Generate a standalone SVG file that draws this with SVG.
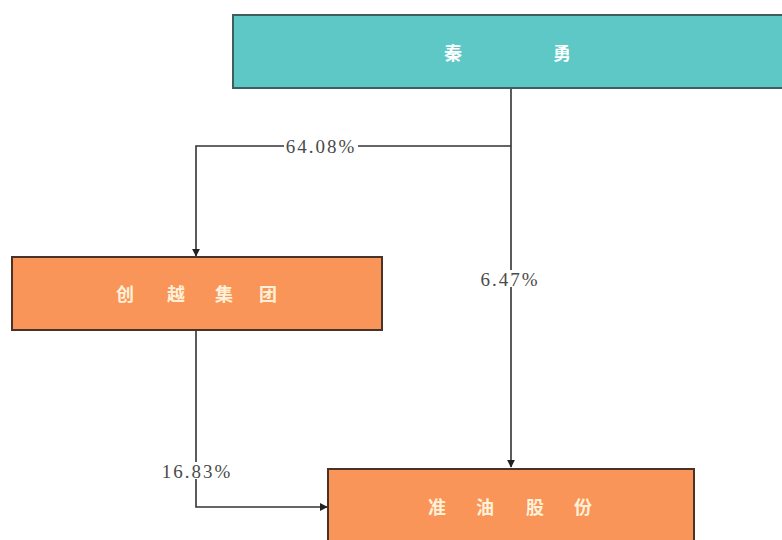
<svg xmlns="http://www.w3.org/2000/svg" width="782" height="540" viewBox="0 0 782 540">
<defs>
<style>
.teal{fill:#5EC8C6;stroke:#3E5F60;stroke-width:2}
.orange{fill:#FA9559;stroke:#4A3226;stroke-width:2}
.cn{font-family:"Noto Sans CJK SC","Noto Sans",sans-serif;font-size:18px;font-weight:bold;text-anchor:middle;dominant-baseline:central}
.lbl{font-family:"Liberation Serif",serif;font-size:19px;letter-spacing:2px;fill:#4a4a4a;text-anchor:middle;dominant-baseline:central}
.ln{fill:none;stroke:#333;stroke-width:1.6}
</style>
<marker id="arr" viewBox="0 0 10 10" refX="9" refY="5" markerWidth="8" markerHeight="8" markerUnits="userSpaceOnUse" orient="auto">
<path d="M0,0 L10,5 L0,10 z" fill="#222"/>
</marker>
</defs>
<rect width="782" height="540" fill="#fff"/>
<g id="connectors">
<path class="ln" d="M511,88 V467" marker-end="url(#arr)"/>
<path class="ln" d="M511,146 H196 V256" marker-end="url(#arr)"/>
<path class="ln" d="M196,330 V507 H327" marker-end="url(#arr)"/>
<rect x="284" y="137" width="74" height="18" fill="#fff"/>
<text class="lbl" x="321" y="146">64.08%</text>
<rect x="478" y="270" width="63" height="17" fill="#fff"/>
<text class="lbl" x="510" y="279">6.47%</text>
<rect x="160" y="462" width="73" height="17" fill="#fff"/>
<text class="lbl" x="197" y="471">16.83%</text>
</g>
<g id="qinyong">
<rect class="teal" x="233" y="15" width="560" height="73"/>
<text class="cn" fill="#fff" x="453 562" y="52">秦勇</text>
</g>
<g id="chuangyue">
<rect class="orange" x="12" y="257" width="370" height="73"/>
<text class="cn" fill="#FFF1D8" x="125 176 224 268" y="293">创越集团</text>
</g>
<g id="zhunyou">
<rect class="orange" x="328" y="469" width="366" height="80"/>
<text class="cn" fill="#FFF1D8" x="437 485 535 583" y="506">准油股份</text>
</g>
</svg>
